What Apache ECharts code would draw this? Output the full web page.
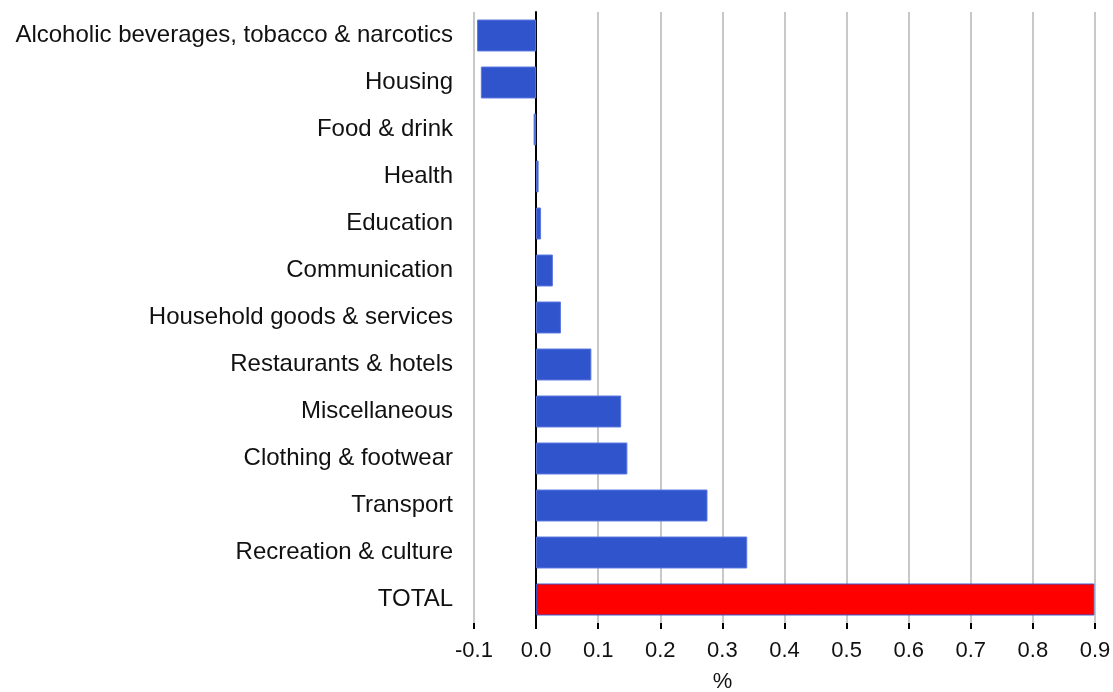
<!DOCTYPE html>
<html><head><meta charset="utf-8">
<script src="https://cdn.jsdelivr.net/npm/echarts@6/dist/echarts.min.js"></script>
<style>html,body{margin:0;padding:0;background:#fff}#c{width:1113px;height:692px}</style>
</head><body><div id="c"></div>
<script>
const categories = ["Alcoholic beverages, tobacco & narcotics","Housing","Food & drink","Health","Education","Communication","Household goods & services","Restaurants & hotels","Miscellaneous","Clothing & footwear","Transport","Recreation & culture","TOTAL"];
const values = [-0.095,-0.089,-0.004,0.004,0.008,0.027,0.040,0.089,0.137,0.147,0.276,0.340,0.899];
const xTicks = {min:-0.1,max:0.9,interval:0.1};
const axisName = "%";

const chart = echarts.init(document.getElementById('c'), null, {renderer:'canvas'});
const font = 'Liberation Sans, Arial, sans-serif';
chart.setOption({
  animation:false,
  grid:{left:474,right:18,top:12,bottom:69,containLabel:false,outerBoundsMode:'none'},
  xAxis:{type:'value',min:xTicks.min,max:xTicks.max,interval:xTicks.interval,
    name:axisName,nameLocation:'middle',nameGap:48,
    nameTextStyle:{color:'#111',fontSize:22,fontFamily:font,padding:[0,124,0,0]},
    axisLine:{onZero:false,lineStyle:{color:'#000',width:2}},
    axisTick:{show:true,length:6,lineStyle:{color:'#000',width:2}},
    axisLabel:{color:'#111',fontSize:22,fontFamily:font,margin:17,formatter:v=>v.toFixed(1)},
    splitLine:{show:true,lineStyle:{color:'#c8c8c8',width:2}}},
  yAxis:{type:'category',data:categories,inverse:true,
    axisLine:{show:true,onZero:true,lineStyle:{color:'#000',width:2}},
    axisTick:{show:false},
    axisLabel:{color:'#111',fontSize:24,fontFamily:font,margin:21}},
  series:[{type:'bar',barCategoryGap:'32%',
    data:values.map((v,i)=>({value:v,itemStyle:(i===values.length-1)?{color:'#ff0000',borderColor:'#3a55cc',borderWidth:1}:{color:'#2f54cb',borderColor:'#5b78e0',borderWidth:1}}))}]
});
</script></body></html>
